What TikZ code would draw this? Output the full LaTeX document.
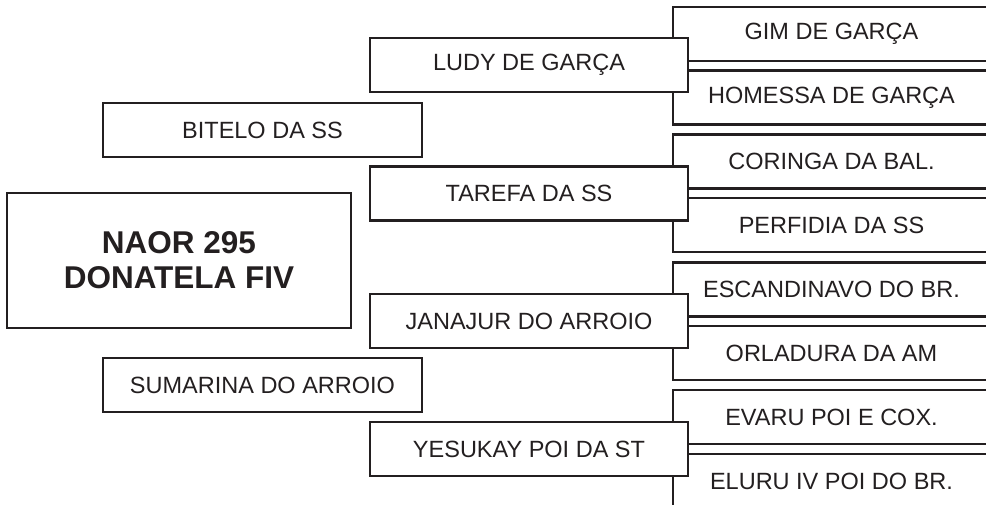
\documentclass[tikz,border=0pt]{standalone}
\usepackage{fontspec}
\setmainfont{Liberation Sans}
\definecolor{ink}{RGB}{35,31,32}
\begin{document}
\begin{tikzpicture}[x=1pt,y=-1pt,
  box/.style={draw=ink, fill=white, line width=2.7pt, rectangle, inner sep=0pt,
    minimum height=54pt, text=ink, font=\fontsize{23.5}{27}\selectfont},
  sire/.style={box, minimum width=317pt},
  parent/.style={box, minimum width=318pt},
  side/.style={box, minimum width=319pt},
  main/.style={box, minimum width=344pt, minimum height=135pt, align=center,
    font=\fontsize{31.5}{35}\selectfont\bfseries}]
\useasboundingbox (0,0) rectangle (986,505);
\clip (0,0) rectangle (986,505);
% great-grandparents (right column)
\node[sire] (gim) at (831.5,34) {GIM DE GARÇA};
\node[sire] (hom) at (831.5,97.5) {HOMESSA DE GARÇA};
\node[sire] (cor) at (831.5,161.5) {CORINGA DA BAL.};
\node[sire] (per) at (831.5,225) {PERFIDIA DA SS};
\node[sire] (esc) at (831.5,289.5) {ESCANDINAVO DO BR.};
\node[sire] (orl) at (831.5,353) {ORLADURA DA AM};
\node[sire] (eva) at (831.5,417) {EVARU POI E COX.};
\node[sire] (elu) at (831.5,481) {ELURU IV POI DO BR.};
% grandparents
\node[parent] (ludy) at (529,65) {LUDY DE GARÇA};
\node[parent] (tar) at (529,193.5) {TAREFA DA SS};
\node[parent] (jan) at (529,321) {JANAJUR DO ARROIO};
\node[parent] (yes) at (529,449) {YESUKAY POI DA ST};
% parents
\node[side] (bit) at (262.5,130) {BITELO DA SS};
\node[side] (sum) at (262.5,385) {SUMARINA DO ARROIO};
% animal
\node[main] (naor) at (179,260.5) {NAOR 295\\DONATELA FIV};
\end{tikzpicture}
\end{document}
